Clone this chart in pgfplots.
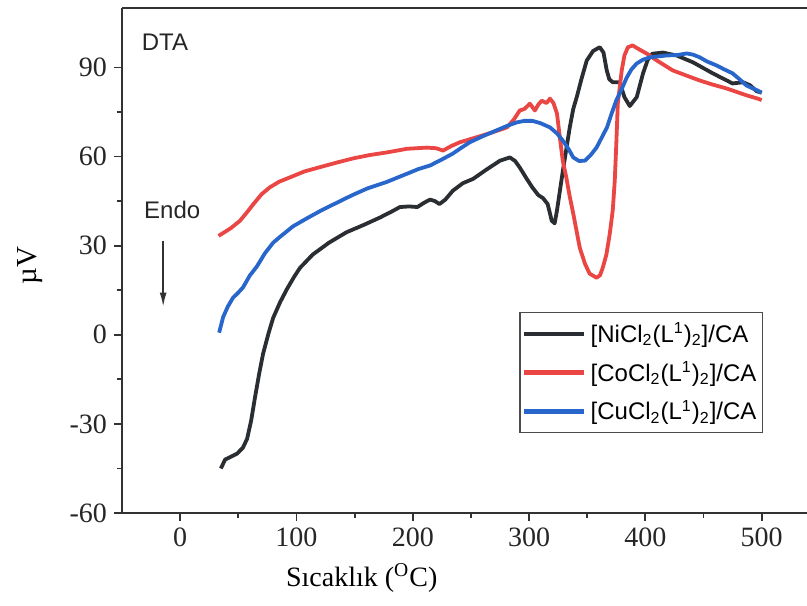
\documentclass[border=0pt]{standalone}
\usepackage{fontspec}
\setmainfont{Liberation Serif}
\newfontfamily\arial{Liberation Sans}
\usepackage{pgfplots}
\pgfplotsset{compat=1.18}
\usetikzlibrary{arrows.meta}
\definecolor{niblack}{RGB}{42,46,50}
\definecolor{cored}{RGB}{234,70,68}
\definecolor{cublue}{RGB}{40,102,204}
\definecolor{axgray}{RGB}{50,50,50}

\begin{document}
\begin{tikzpicture}
\begin{axis}[
  scale only axis, width=342.5pt, height=252.5pt,
  xmin=-50, xmax=539, ymin=-60, ymax=110,
  axis x line*=bottom, axis y line*=left,
  axis line style={axgray, line width=1pt},
  every tick/.style={axgray, line width=0.9pt},
  tick align=outside,
  major tick length=4pt, minor tick length=2.5pt,
  xtick={0,100,...,500}, ytick={-60,-30,...,90},
  minor x tick num=1, minor y tick num=1,
  /pgf/number format/assume math mode=true,
  tick label style={font=\fontsize{14}{14}\selectfont, text=black!85},
  xlabel={Sıcaklık (\textsuperscript{O}C)},
  ylabel={µV},
  every axis x label/.style={at={(axis description cs:0.35,-0.129)}, anchor=center, font=\fontsize{14}{15}\selectfont},
  every axis y label/.style={at={(axis description cs:-0.134,0.49)}, rotate=90, anchor=center, font=\fontsize{14.5}{15}\selectfont},
  legend style={at={(axis description cs:0.58,0.398)}, anchor=north west,
    draw=black!70, line width=0.6pt, inner xsep=1pt, inner ysep=3pt,
    font=\arial\fontsize{12}{14}\selectfont, row sep=4pt},
  legend cell align=left,
  legend image code/.code={\draw[#1, line width=2.4pt] (0pt,0pt) -- (30pt,0pt);},
  every axis plot/.append style={line width=1.9pt, line join=round},
]
\addplot[niblack] coordinates {
(35,-45)(38.7,-42)(44,-41)(49,-40)(54,-38)(57.6,-35)(61,-29)(64.4,-21)(68,-13)(71.3,-6.4)
(76,0.5)(80,5.7)(86,11)(92,15.5)(98,19.5)(103,22.5)(114,27)(128,31)(143,34.5)(158,37)
(172,39.5)(182,41.5)(189,43)(197,43.2)(204,43)(210,44.5)(215,45.5)(219,45)(223,44)(228,45.5)
(234.5,48.5)(243,51)(252,52.5)(263,55.5)(275,58.6)(283.5,59.7)(288,58.5)(292,56.3)(298,52.5)
(303,49.5)(308,47)(312,46)(316,44)(319.5,38.4)(322,37.5)(324,41.8)(329,55)(335,69.8)(338,76)
(341,80)(345,86)(349.6,92.3)(355,95.5)(360.8,96.8)(364,95)(366.8,89)(369,86)(372,85)(378,85)
(382,80)(386.6,77)(392.6,80)(398,88)(402,92.5)(406,94.6)(415,95)(427,94)(441,91.7)(458,88)
(475,84.6)(484,85)(490,84)(495.6,82)(500,81.5)
};
\addlegendentry{[NiCl\textsubscript{2}(L\textsuperscript{1})\textsubscript{2}]/CA}
\addplot[cored] coordinates {
(33,33.3)(38,34.5)(44,36)(51.5,38.4)(57,41)(63,44)(70,47.3)(77,49.6)(85,51.5)(94.5,53)
(107,55)(120,56.4)(135,58)(149,59.4)(163,60.5)(178,61.4)(195,62.6)(212,63)(220,62.8)(226,62)
(233,63.5)(240.5,64.8)(255,66.5)(269,68.2)(281,69.8)(287,72.5)(292,75.5)(296,76)(300.7,77.8)
(305,75.5)(308,77.5)(311,78.8)(315,78)(318,79.5)(321,78)(324,74.5)(326.5,66.4)(329,58.6)
(332,53)(335,46.5)(338,40.8)(343.6,29.3)(348,24)(352,20.6)(358,19.2)(361,20)(363.4,22.6)
(366.5,27)(369.4,34)(372,42)(373.7,51.9)(375,64)(376.3,77.8)(379.7,89)(382,94)(385,96.8)
(389,97.4)(395,96)(401,94.7)(410,92.3)(423.5,89)(435,87.3)(446.7,85.6)(458,84.2)(470,82.9)
(487,80.6)(496.6,79.5)(500,79)
};
\addlegendentry{[CoCl\textsubscript{2}(L\textsuperscript{1})\textsubscript{2}]/CA}
\addplot[cublue] coordinates {
(33.5,0.7)(37,6)(41,9.5)(45.5,12.5)(49,13.8)(54,15.9)(60,20)(66,23)(73,27.5)(80,31)
(86,33)(97,36.5)(109,39.2)(122,42)(135,44.5)(148,47)(160.6,49.2)(178,51.5)(195,54.2)(205,55.8)
(215,57)(225,59)(234.5,61)(242,63)(249,64.8)(260,66.8)(272,68.8)(281,70.3)(289.5,71.5)(296,72)
(303,72)(310,71.2)(318,69.8)(324,67.8)(329,65.4)(334,62.5)(338,59.7)(343,58.5)(348,58.6)
(353,60.5)(358,63)(362,66)(367,69.8)(371,74.5)(375,78.9)(380,83)(384,86.6)(388,89.3)
(392.5,91.3)(398,92.6)(404,93.4)(418,94)(428,94.2)(435.6,94.7)(441,94.3)(446.7,93.4)(453,92)
(461,90.7)(468,89.3)(475,88)(481,86)(487,83.9)(492,83)(496.6,82.2)(500,81.5)
};
\addlegendentry{[CuCl\textsubscript{2}(L\textsuperscript{1})\textsubscript{2}]/CA}
\node[anchor=west, font=\arial\fontsize{12}{12}\selectfont, text=black!85] at (axis cs:-39,98.5) {DTA};
\node[anchor=west, font=\arial\fontsize{12}{12}\selectfont, text=black!85] at (axis cs:-37,42) {Endo};
\draw[axgray, line width=0.8pt, -{Latex[length=7pt,width=3.5pt]}] (axis cs:-14.6,31.7) -- (axis cs:-14.6,9.5);
\end{axis}
\draw[axgray, line width=1pt] (current axis.north west) -- (current axis.north east);
\pgfresetboundingbox
\path ([xshift=-61pt,yshift=-46pt]current axis.south west) rectangle ([yshift=4pt]current axis.north east);
\end{tikzpicture}
\end{document}
